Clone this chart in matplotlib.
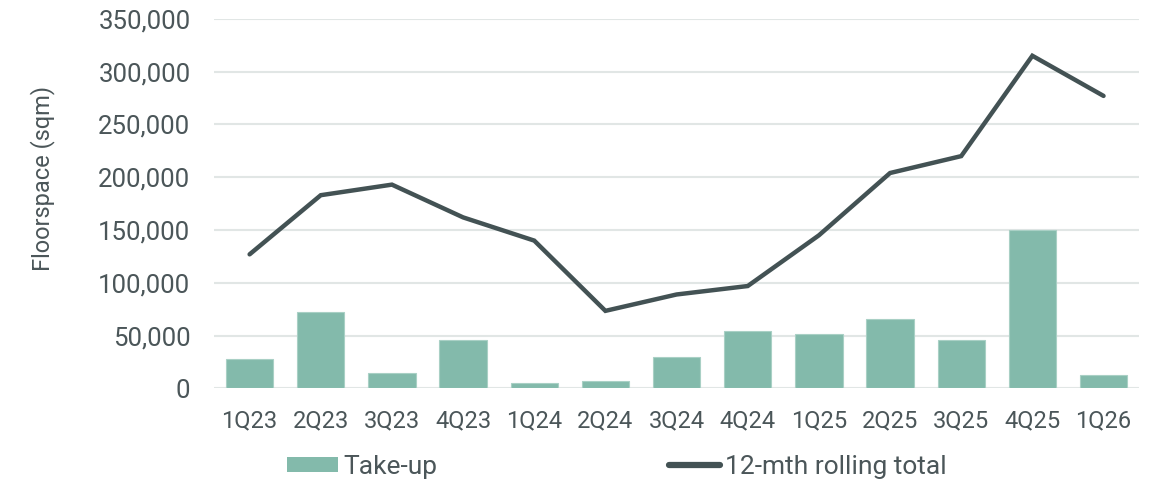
import matplotlib
matplotlib.use("Agg")
import matplotlib.pyplot as plt
from matplotlib.ticker import FuncFormatter, MultipleLocator
from matplotlib.patches import Patch
from matplotlib.lines import Line2D

quarters = ["1Q23", "2Q23", "3Q23", "4Q23", "1Q24", "2Q24", "3Q24",
            "4Q24", "1Q25", "2Q25", "3Q25", "4Q25", "1Q26"]
take_up = [28000, 72000, 15000, 46000, 5000, 7000, 30000,
           54000, 52000, 66000, 46000, 150000, 13000]
rolling_total = [127000, 183000, 193000, 162000, 140000, 73500, 89000,
                 97000, 145000, 204000, 220000, 315000, 277000]

BAR = "#83baab"
LINE = "#435254"
TEXT = "#4b5659"
GRID = "#e1e6e5"

plt.rcParams["font.family"] = ["Roboto", "DejaVu Sans"]

fig = plt.figure(figsize=(11.6, 4.82), dpi=100)
ax = fig.add_axes([0.1845, 0.194, 0.7975, 0.767])

x = range(len(quarters))
ax.bar(x, take_up, width=0.665, color=BAR, edgecolor="#a9d0c5", linewidth=0.8, zorder=2)
ax.plot(x, rolling_total, color=LINE, linewidth=3.2, solid_capstyle="round",
        solid_joinstyle="miter", zorder=3)

ax.set_xlim(-0.5, len(quarters) - 0.5)
ax.set_ylim(0, 350000)
ax.yaxis.set_major_locator(MultipleLocator(50000))
ax.yaxis.set_major_formatter(FuncFormatter(lambda v, _: f"{int(v):,}"))
ax.set_xticks(list(x))
ax.set_xticklabels(quarters)

ax.grid(axis="y", color=GRID, linewidth=1.5, zorder=0)
ax.set_axisbelow(True)
for s in ax.spines.values():
    s.set_visible(False)
ax.tick_params(axis="both", length=0, colors=TEXT)
ax.tick_params(axis="y", pad=17, labelsize=18.5)
ax.tick_params(axis="x", pad=15, labelsize=17)

ax.set_ylabel("Floorspace (sqm)", fontsize=17, color=TEXT)
ax.yaxis.set_label_coords(-0.172, 0.568)

handles = [Patch(facecolor=BAR, edgecolor="none"),
           Line2D([0], [0], color=LINE, linewidth=4.5, solid_capstyle="round")]
leg = fig.legend(handles, ["Take-up", "12-mth rolling total"], ncol=2,
                 loc="center left", bbox_to_anchor=(0.2474, 0.031),
                 frameon=False, fontsize=19, handlelength=1.93, handleheight=0.53,
                 handletextpad=0.19, columnspacing=8.8, borderpad=0, borderaxespad=0)
for t in leg.get_texts():
    t.set_color(TEXT)

fig.savefig("out.png", dpi=100)
